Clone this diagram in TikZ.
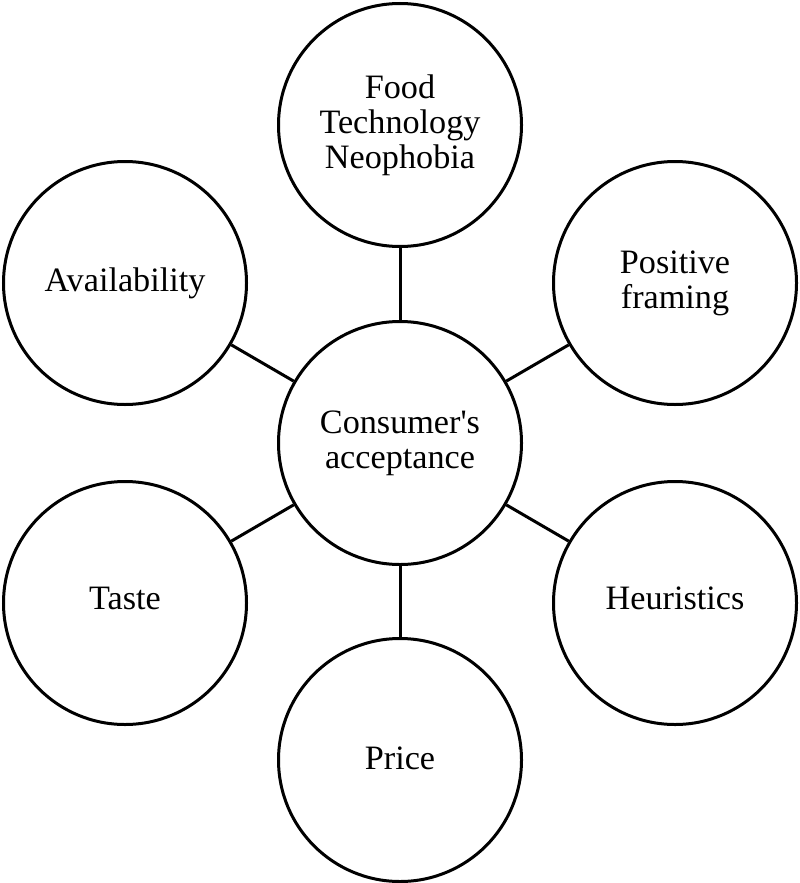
\documentclass[tikz,border=0pt]{standalone}
\usepackage{fontspec}
\setmainfont{Liberation Serif}
\begin{document}
\begin{tikzpicture}[x=1pt,y=-1pt,
  bubble/.style={circle,draw=black,line width=3pt,minimum size=243pt,inner sep=0pt,
    align=center,font=\fontsize{34.2}{35}\selectfont},
  raised/.style={text height=23pt,text depth=10pt},
  link/.style={line width=3pt}]
\useasboundingbox (0,0) rectangle (800,883);
\node[bubble] (c) at (400,443) {Consumer\textquotesingle s\\acceptance};
\node[bubble] (t) at (400,125) {Food\\Technology\\Neophobia};
\node[bubble,text height=23pt,text depth=4pt] (b) at (400,760) {Price};
\node[bubble] (ul) at (125,283) {Availability};
\node[bubble] (ur) at (675,283) {Positive\\framing};
\node[bubble,raised] (ll) at (125,603) {Taste};
\node[bubble,raised] (lr) at (675,603) {Heuristics};
\foreach \n in {t,b,ul,ur,ll,lr} \draw[link] (c) -- (\n);
\end{tikzpicture}
\end{document}
